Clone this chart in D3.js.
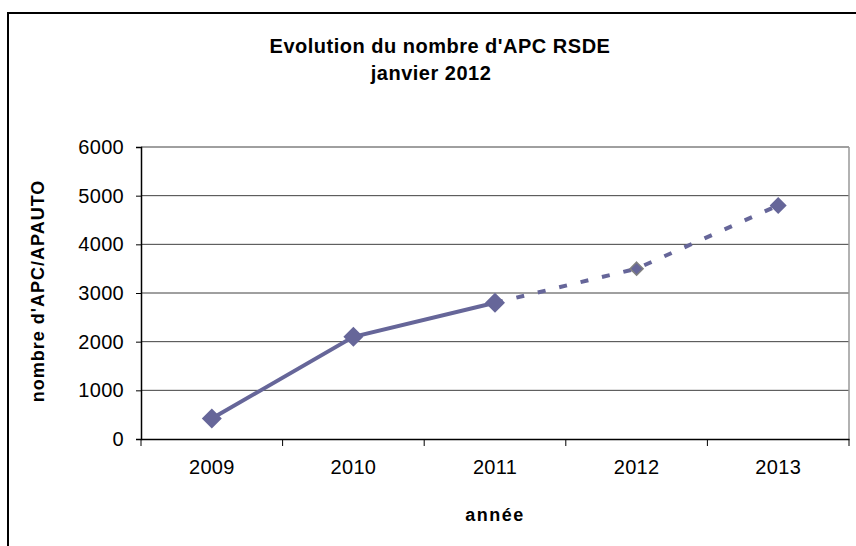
<!DOCTYPE html>
<html>
<head>
<meta charset="utf-8">
<title>Evolution du nombre d'APC RSDE</title>
<script src="https://d3js.org/d3.v7.min.js"></script>
<style>
  body { margin: 0; background: #fff; }
  svg { display: block; font-family: "Liberation Sans", Arial, sans-serif; }
  .title { font-weight: bold; font-size: 20px; letter-spacing: 0.5px; }
  .axis text { font-size: 20px; fill: #000; letter-spacing: 0.3px; }
  .axis-title { font-weight: bold; font-size: 18px; letter-spacing: 1px; }
</style>
</head>
<body>
<svg id="chart" width="856" height="546"></svg>
<script>
// data
const years = ["2009", "2010", "2011", "2012", "2013"];
const values = [420, 2100, 2800, 3500, 4800];
const realCount = 3; // 2009-2011 observed, then projected (dashed)
const yTicks = [0, 1000, 2000, 3000, 4000, 5000, 6000];

const svg = d3.select("#chart");
const margin = { top: 147, right: 7, bottom: 107, left: 141 };
const width = 856 - margin.left - margin.right;
const height = 546 - margin.top - margin.bottom;
const color = "#666699";

// outer frame
svg.append("rect")
  .attr("x", 8).attr("y", 13)
  .attr("width", 900).attr("height", 600)
  .attr("fill", "none").attr("stroke", "#000").attr("stroke-width", 2);

// title
const title = svg.append("text").attr("class", "title").attr("text-anchor", "middle");
title.append("tspan").attr("x", 440).attr("y", 53).text("Evolution du nombre d'APC RSDE");
title.append("tspan").attr("x", 431).attr("y", 80).text("janvier 2012");

const g = svg.append("g").attr("transform", `translate(${margin.left},${margin.top})`);

const x = d3.scaleBand().domain(years).range([0, width]);
const y = d3.scaleLinear().domain([0, 6000]).range([height, 0]);

// gridlines
g.selectAll(".grid")
  .data(yTicks.filter(d => d > 0))
  .join("line")
  .attr("class", "grid")
  .attr("x1", 0).attr("x2", width)
  .attr("y1", d => y(d)).attr("y2", d => y(d))
  .attr("stroke", "#404040").attr("stroke-width", 1);

// right border of plot area
g.append("line")
  .attr("x1", width).attr("x2", width)
  .attr("y1", 0).attr("y2", height)
  .attr("stroke", "#999").attr("stroke-width", 1.5);

// y axis
const yAxis = g.append("g").attr("class", "axis")
  .call(d3.axisLeft(y).tickValues(yTicks).tickSize(5).tickPadding(12).tickFormat(d3.format("d")));
yAxis.select(".domain").attr("stroke", "#000").attr("stroke-width", 1.5);
yAxis.selectAll(".tick line").attr("stroke", "#000");

// x axis with ticks on category boundaries
const xAxis = g.append("g").attr("class", "axis")
  .attr("transform", `translate(0,${height})`)
  .call(d3.axisBottom(x).tickSize(0).tickPadding(21));
xAxis.select(".domain").attr("stroke", "#000").attr("stroke-width", 1.5);
const bounds = d3.range(years.length + 1).map(i => i * x.step());
xAxis.selectAll(".bound")
  .data(bounds)
  .join("line")
  .attr("class", "bound")
  .attr("x1", d => d).attr("x2", d => d)
  .attr("y1", 0).attr("y2", 7)
  .attr("stroke", "#000");

// lines
const pts = years.map((yr, i) => ({ yr, v: values[i], i }));
const line = d3.line().x(d => x(d.yr) + x.bandwidth() / 2).y(d => y(d.v));
g.append("path")
  .datum(pts.slice(0, realCount))
  .attr("d", line)
  .attr("fill", "none").attr("stroke", color).attr("stroke-width", 4);
g.append("path")
  .datum(pts.slice(realCount - 1))
  .attr("d", line)
  .attr("fill", "none").attr("stroke", color).attr("stroke-width", 4)
  .attr("stroke-dasharray", "8,14");

// markers
const markerSize = [10, 10, 10, 6.5, 8.5];
g.selectAll(".marker")
  .data(pts)
  .join("path")
  .attr("class", "marker")
  .attr("transform", d => `translate(${x(d.yr) + x.bandwidth() / 2},${y(d.v)})`)
  .attr("d", d => { const r = markerSize[d.i]; return `M0,${-r}L${r},0L0,${r}L${-r},0Z`; })
  .attr("fill", color)
  .attr("stroke", d => d.i === 3 ? "#808080" : "none")
  .attr("stroke-width", 1.5);

// axis titles
svg.append("text").attr("class", "axis-title")
  .attr("text-anchor", "middle")
  .attr("transform", "translate(44,291) rotate(-90)")
  .text("nombre d'APC/APAUTO");
svg.append("text").attr("class", "axis-title")
  .attr("text-anchor", "middle")
  .attr("x", 495).attr("y", 521)
  .attr("font-size", 19).style("letter-spacing", "1.5px")
  .text("année");
</script>
</body>
</html>
